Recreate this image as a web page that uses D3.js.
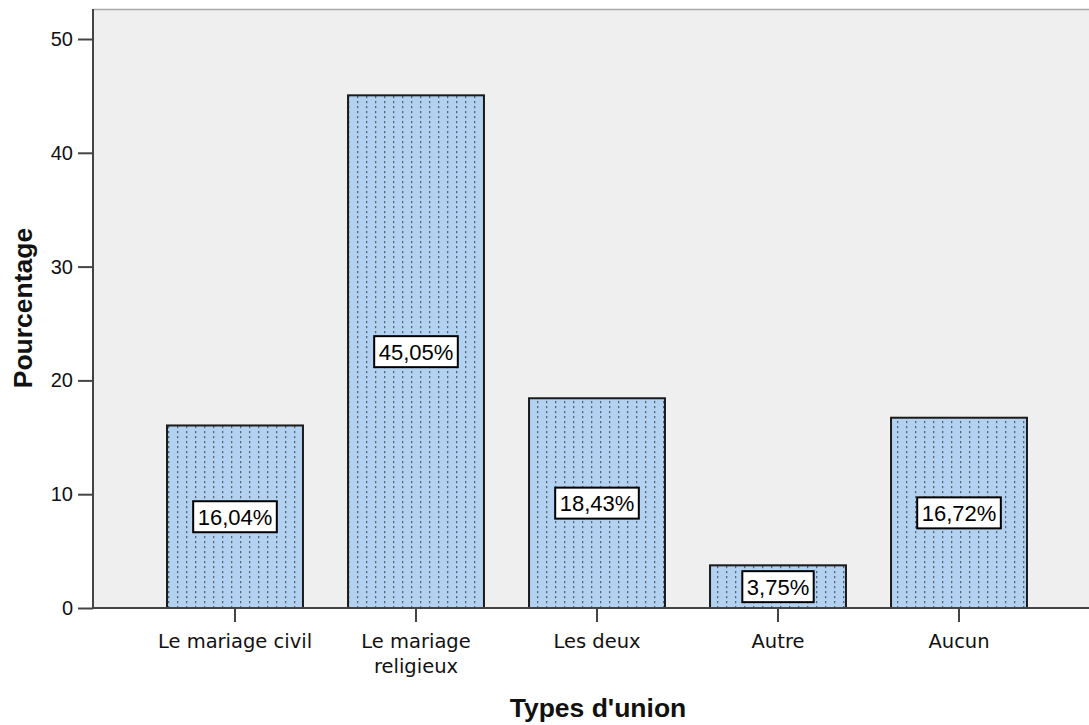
<!DOCTYPE html>
<html><head><meta charset="utf-8">
<script src="https://cdn.jsdelivr.net/npm/d3@7"></script>
<style>body{margin:0;background:#fff;} svg{display:block;font-family:"Liberation Sans",Arial,sans-serif;}</style>
</head><body>
<svg id="c" width="1089" height="725"></svg>
<script>
const categories = ["Le mariage civil", "Le mariage religieux", "Les deux", "Autre", "Aucun"];
const categoryLines = [["Le mariage civil"], ["Le mariage", "religieux"], ["Les deux"], ["Autre"], ["Aucun"]];
const values = [16.04, 45.05, 18.43, 3.75, 16.72];
const valueLabels = ["16,04%", "45,05%", "18,43%", "3,75%", "16,72%"];
const yTicks = [0, 10, 20, 30, 40, 50];

const svg = d3.select("#c");
const pL = 93, pT = 9, pB = 608, pR = 1089;
const y = d3.scaleLinear().domain([0, 50]).range([pB, 39]);
const x = d3.scaleBand().domain(categories).range([pL, 1101]).paddingInner(0.249).paddingOuter(0.409);

const defs = svg.append("defs");
const pat = defs.append("pattern").attr("id","dots").attr("patternUnits","userSpaceOnUse")
  .attr("width", 9).attr("height", 5).attr("x", 4);
pat.append("rect").attr("width",9).attr("height",5).attr("fill","#b3d2f2");
pat.append("rect").attr("x",2).attr("y",1).attr("width",1.3).attr("height",2.2).attr("fill","#5a6470");

svg.append("rect").attr("x", pL).attr("y", pT).attr("width", pR-pL+5).attr("height", pB-pT).attr("fill","#efefef");
svg.append("line").attr("x1",pL).attr("x2",pR).attr("y1",pT+0.5).attr("y2",pT+0.5).attr("stroke","#a8a8a8").attr("stroke-width",1.5);

// bars
svg.selectAll("rect.bar").data(values).enter().append("rect").attr("class","bar")
  .attr("x",(d,i)=>x(categories[i])).attr("width",x.bandwidth())
  .attr("y",d=>y(d)).attr("height",d=>pB-y(d))
  .attr("fill","url(#dots)").attr("stroke","#1a1a1a").attr("stroke-width",2);

// y axis
const ya = svg.append("g").attr("transform",`translate(${pL},0)`)
  .call(d3.axisLeft(y).tickValues(yTicks).tickSize(15).tickPadding(5).tickFormat(d3.format("d")));
ya.select(".domain").attr("stroke","#444").attr("stroke-width",2).attr("d",`M0,${pT}V${pB}`);
ya.selectAll(".tick line").attr("stroke","#444").attr("stroke-width",2);
ya.selectAll(".tick text").attr("font-size",20).attr("fill","#111").attr("font-family","Liberation Sans, Arial, sans-serif");

// x axis
const xa = svg.append("g").attr("transform",`translate(0,${pB})`)
  .call(d3.axisBottom(x).tickSize(14).tickFormat(""));
xa.select(".domain").attr("stroke","#444").attr("stroke-width",2).attr("d",`M${pL},0H${pR}`);
xa.selectAll(".tick line").attr("stroke","#444").attr("stroke-width",2);
xa.selectAll(".tick").each(function(d,i){
  const t = d3.select(this).append("text").attr("fill","#111").attr("font-size",19.5)
    .attr("text-anchor","middle").attr("font-family","DejaVu Sans, sans-serif");
  categoryLines[i].forEach((ln,j)=>t.append("tspan").attr("x",0).attr("y",40+j*25).text(ln));
});

// value labels
const lg = svg.selectAll("g.lab").data(values).enter().append("g").attr("class","lab")
  .attr("transform",(d,i)=>`translate(${x(categories[i])+x.bandwidth()/2},${y(d/2)})`);
lg.each(function(d,i){
  const g = d3.select(this);
  const t = g.append("text").attr("text-anchor","middle").attr("dy","0.36em").attr("font-size",22)
    .attr("fill","#000").text(valueLabels[i]);
  const w = t.node().getComputedTextLength();
  g.insert("rect","text").attr("x",-w/2-4.5).attr("y",-15.5).attr("width",w+9).attr("height",31)
    .attr("fill","#fff").attr("stroke","#000").attr("stroke-width",2);
});

// axis titles
svg.append("text").attr("x", 598).attr("y", 717).attr("text-anchor","middle").attr("font-weight","bold")
  .attr("font-size",26.5).attr("fill","#111").text("Types d'union");
svg.append("text").attr("transform","translate(32,308) rotate(-90)").attr("text-anchor","middle").attr("font-weight","bold")
  .attr("font-size",26.5).attr("fill","#111").text("Pourcentage");
</script>
</body></html>
